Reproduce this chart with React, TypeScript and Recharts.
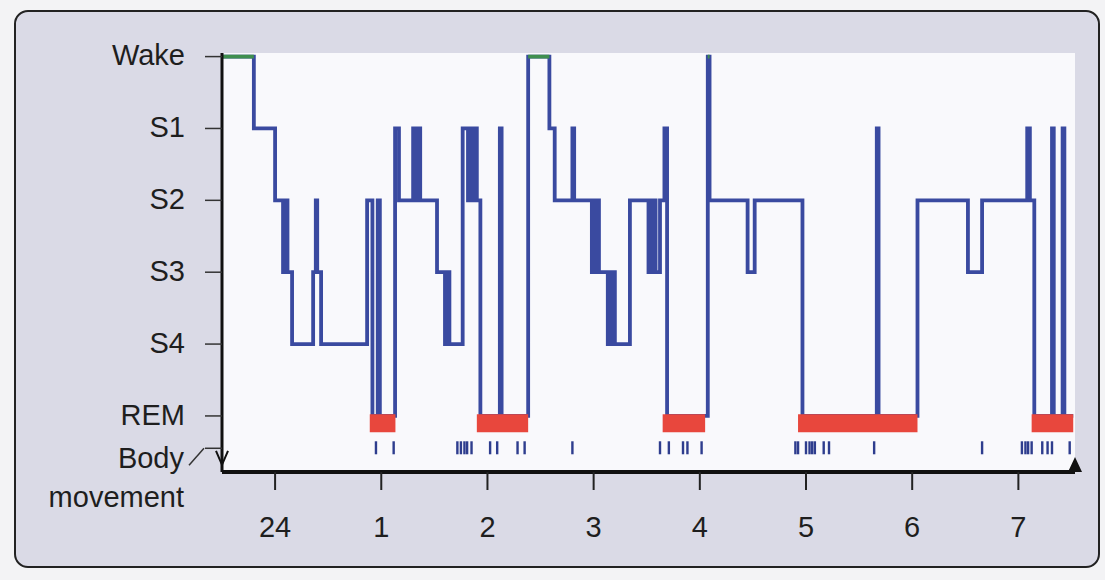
import {
  CartesianGrid,
  ComposedChart,
  Line,
  ReferenceDot,
  ReferenceLine,
  Scatter,
  XAxis,
  YAxis,
} from "recharts";

// stage order bottom -> top, the index is the y value
const stages = ["REM", "S4", "S3", "S2", "S1", "Wake"];

// minutes after midnight; 24 = 0
const hourTicks = [0, 60, 120, 180, 240, 300, 360, 420];
const hourLabels = ["24", "1", "2", "3", "4", "5", "6", "7"];

// [minute, stage] — stage holds until the next entry
const hypnogram: [number, string][] = [
  [-30, "Wake"],
  [-12, "S1"],
  [0, "S2"],
  [4.5, "S3"], [6, "S2"], [7, "S3"],
  [9.6, "S4"],
  [21.5, "S3"], [23, "S2"], [23.8, "S3"],
  [26, "S4"],
  [52, "S2"],
  [55, "REM"],
  [58, "S2"], [59.2, "REM"],
  [67.8, "S1"], [70, "S2"],
  [78, "S1"], [79.5, "S2"], [80.5, "S1"], [82, "S2"],
  [91.5, "S3"],
  [96, "S4"], [97.5, "S3"], [98.5, "S4"],
  [106, "S1"],
  [109, "S2"], [110.2, "S1"], [112, "S2"], [113, "S1"], [114, "S2"],
  [116, "REM"],
  [127, "S1"], [128, "REM"],
  [143, "Wake"],
  [155, "S1"],
  [158, "S2"],
  [168, "S1"], [169, "S2"],
  [179, "S3"], [181, "S2"], [183, "S3"],
  [188, "S4"], [190, "S3"], [192, "S4"],
  [200.5, "S2"],
  [211, "S3"], [213, "S2"], [215, "S3"], [217.5, "S2"],
  [220, "S1"],
  [221.5, "REM"],
  [244.5, "Wake"],
  [245.5, "S2"],
  [267, "S3"], [271, "S2"],
  [298, "REM"],
  [340, "S1"], [341, "REM"],
  [363, "S2"],
  [391.5, "S3"], [399.5, "S2"],
  [425, "S1"], [426.5, "S2"],
  [429, "REM"],
  [439, "S1"], [440, "REM"],
  [445, "S1"], [446, "REM"],
  [451, "REM"],
];

// REM bars [start, end] in minutes
const remPeriods: [number, number][] = [
  [53.5, 68],
  [114, 143],
  [219, 243],
  [295.5, 363],
  [427.5, 451],
];

// body movement marks, minutes
const bodyMovements = [
  57, 67, 103, 105, 107, 108.5, 111, 121.5, 125.5, 137, 141, 168,
  217.5, 222.5, 230.5, 233, 241,
  294, 295.5, 300, 302, 303.5, 305, 310, 313, 338.5,
  399.5, 422, 424, 425.5, 427.5, 433.5, 436.5, 439, 449,
];

const BODY_ROW = -0.45;
const REM_BAR = -0.1; // centre of the red bar, just under the REM level
const BLUE = "#3a4aa0";
const FONT = "'Liberation Sans', Arial, sans-serif";

const lineData = hypnogram.map(([m, s]) => ({ m, stage: stages.indexOf(s) }));
const bodyData = bodyMovements.map((m) => ({ m, row: BODY_ROW }));
const remData = remPeriods.flatMap(([a, b]) => [
  { m: a, rem: REM_BAR },
  { m: b, rem: REM_BAR },
  { m: b, rem: null },
]);

const wakeSegments: [number, number][] = [];
hypnogram.forEach(([m, s], i) => {
  if (s === "Wake" && i + 1 < hypnogram.length) wakeSegments.push([m, hypnogram[i + 1][0]]);
});

function YTick(props: any) {
  const { x, y, payload } = props;
  if (payload.value === BODY_ROW) {
    return (
      <g>
        <polyline points={`${x + 4},${y + 17} ${x + 19},${y}`} fill="none" stroke="#333" strokeWidth={1.5} />
        <text x={x - 1} y={y + 20} textAnchor="end" fontSize={29} fill="#1e1e1e" fontFamily={FONT}>
          Body
        </text>
        <text x={x - 1} y={y + 59} textAnchor="end" fontSize={29} fill="#1e1e1e" fontFamily={FONT}>
          movement
        </text>
      </g>
    );
  }
  return (
    <text x={x} y={y} dy="0.3em" textAnchor="end" fontSize={29} fill="#1e1e1e" fontFamily={FONT}>
      {stages[payload.value]}
    </text>
  );
}

function DownArrow(props: any) {
  const { cx, cy } = props;
  return <path d={`M${cx - 6},${cy - 14} L${cx},${cy} L${cx + 6},${cy - 14}`} fill="none" stroke="#111" strokeWidth={2} />;
}

function UpArrow(props: any) {
  const { cx, cy } = props;
  return <path d={`M${cx - 7},${cy} L${cx},${cy - 15} L${cx + 7},${cy} Z`} fill="#111" />;
}

function Tick(props: any) {
  const { cx, cy } = props;
  return <rect x={cx - 1.2} y={cy - 7} width={2.4} height={13} fill="#2e3d8e" />;
}

export default function App() {
  return (
    <div style={{ position: "absolute", left: 0, top: 0, width: 1105, height: 580, background: "#f3f3f5", overflow: "hidden" }}>
      <div
        style={{
          position: "absolute",
          left: 14,
          top: 10,
          width: 1086,
          height: 558,
          border: "2.5px solid #222",
          borderRadius: 14,
          background: "#dadae6",
          boxSizing: "border-box",
        }}
      />
      <div style={{ position: "absolute", left: 0, top: 0 }}>
        <ComposedChart width={1105} height={580} margin={{ top: 53, right: 30, bottom: 48, left: 0 }} style={{ fontFamily: FONT }}>
          <CartesianGrid horizontal={false} vertical={false} fill="#f9f9fc" />
          <XAxis
            dataKey="m"
            type="number"
            domain={[-30, 452]}
            allowDataOverflow
            ticks={hourTicks}
            tickFormatter={(v: number) => hourLabels[hourTicks.indexOf(v)]}
            axisLine={{ stroke: "#111", strokeWidth: 4 }}
            tickLine={{ stroke: "#222", strokeWidth: 2 }}
            tickSize={18}
            tickMargin={26}
            height={60}
            tick={{ fontSize: 29, fill: "#1e1e1e", fontFamily: FONT }}
          />
          <YAxis
            type="number"
            domain={[-0.78, 5.05]}
            allowDataOverflow
            ticks={[BODY_ROW, 0, 1, 2, 3, 4, 5]}
            width={222}
            axisLine={{ stroke: "#111", strokeWidth: 3 }}
            tickLine={{ stroke: "#333", strokeWidth: 1.5 }}
            tickSize={17}
            tickMargin={20}
            tick={<YTick />}
          />
          <Line
            data={lineData}
            dataKey="stage"
            type="stepAfter"
            stroke={BLUE}
            strokeWidth={3.8}
            dot={false}
            isAnimationActive={false}
          />
          <Line
            data={remData}
            dataKey="rem"
            stroke="#e8473d"
            strokeWidth={18}
            strokeLinecap="butt"
            dot={false}
            activeDot={false}
            connectNulls={false}
            isAnimationActive={false}
          />
          {wakeSegments.map(([a, b], i) => (
            <ReferenceLine
              key={`wake${i}`}
              segment={[{ x: a, y: 5 }, { x: b, y: 5 }]}
              stroke="#3f8f4f"
              strokeWidth={3.8}
              ifOverflow="visible"
            />
          ))}
          <Scatter data={bodyData} dataKey="row" shape={<Tick />} isAnimationActive={false} />
          <ReferenceDot x={-30} y={-0.68} shape={<DownArrow />} ifOverflow="visible" />
          <ReferenceDot x={452} y={-0.78} shape={<UpArrow />} ifOverflow="visible" />
        </ComposedChart>
      </div>
    </div>
  );
}
